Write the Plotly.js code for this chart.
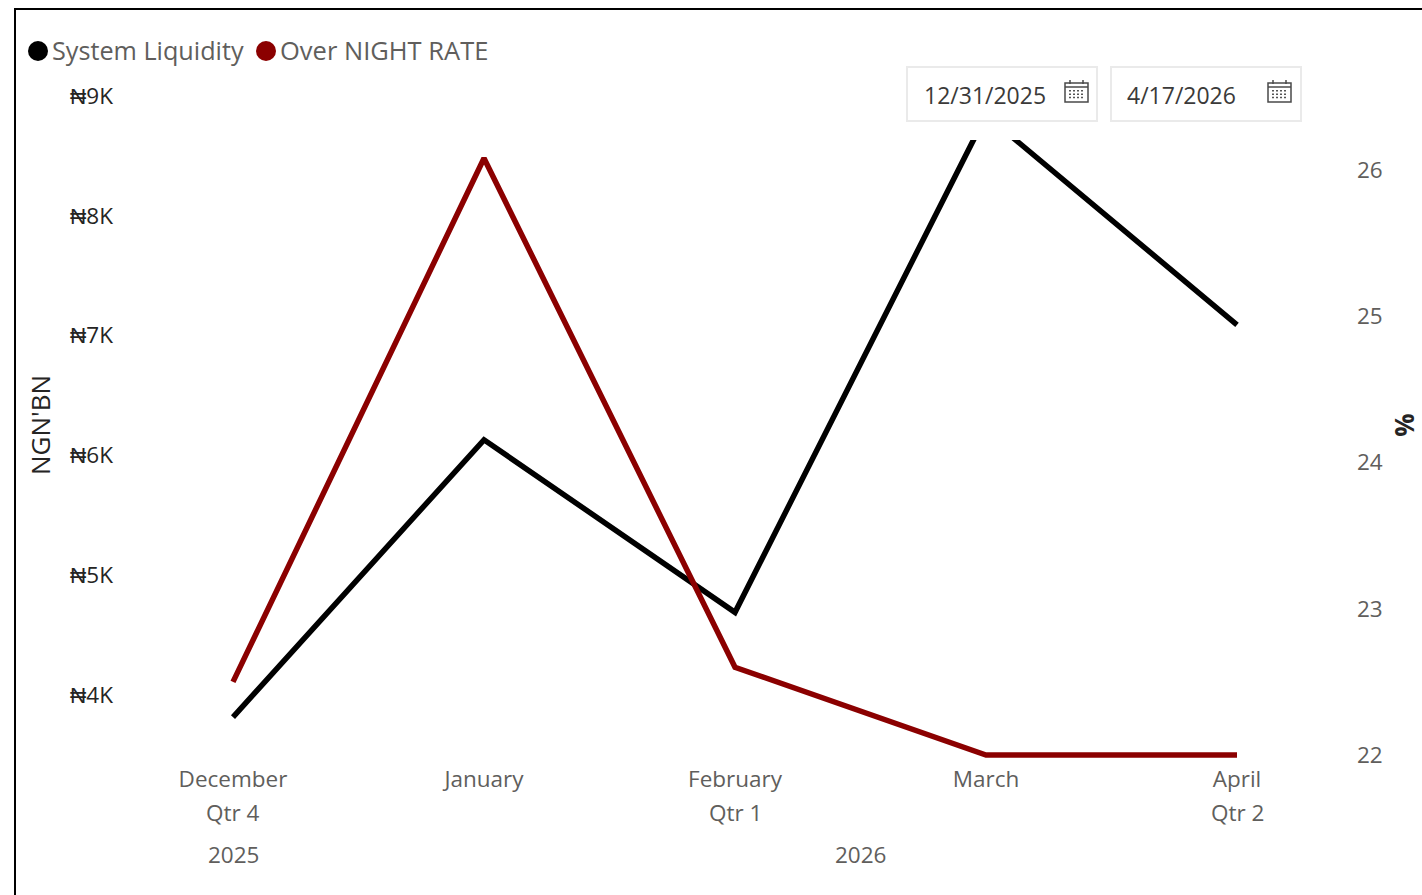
<!DOCTYPE html>
<html><head><meta charset="utf-8">
<script src="https://cdn.plot.ly/plotly-3.0.1.min.js"></script>
<style>html,body{margin:0;padding:0;background:#fff;overflow:hidden}#c{width:1422px;height:895px}</style>
</head><body><div id="c"></div>
<script>
const months = ["December","January","February","March","April"];
const quarters = ["Qtr 4","","Qtr 1","","Qtr 2"];
const liquidity = [3.816,6.13,4.69,8.84,7.09];
const overnight = [22.5,26.08,22.6,22,22];
const leftTicks = [4,5,6,7,8,9];
const leftLabels = ["₦4K","₦5K","₦6K","₦7K","₦8K","₦9K"];
const rightTicks = [22,23,24,25,26];
const seriesNames = ["System Liquidity","Over NIGHT RATE"];
const dates = ["12/31/2025","4/17/2026"];
const years = [["2025",0],["2026",2.5]];

const W=1422,H=895,L=118,R=1350,T=90,B=760;
const FONT='"Open Sans", sans-serif', GREY='#605e5c';
const px=x=>(x-L)/(R-L), py=y=>(B-y)/(B-T);
const rect=(x0,y0,x1,y1,fill,line,w)=>({type:'rect',xref:'paper',yref:'paper',x0:px(x0),x1:px(x1),y0:py(y0),y1:py(y1),fillcolor:fill,line:{color:line||fill,width:line?(w||1):0},layer:'above'});
const seg=(x0,y0,x1,y1,c,w)=>({type:'line',xref:'paper',yref:'paper',x0:px(x0),x1:px(x1),y0:py(y0),y1:py(y1),line:{color:c,width:w},layer:'above'});
const dot=(cx,cy,r,c)=>({type:'circle',xref:'paper',yref:'paper',x0:px(cx-r),x1:px(cx+r),y0:py(cy-r),y1:py(cy+r),fillcolor:c,line:{width:0},layer:'above'});
const label=(x,y,t,size,color,anchor)=>({xref:'paper',yref:'paper',x:px(x),y:py(y),text:t,showarrow:false,font:{family:FONT,size,color},xanchor:anchor||'left',yanchor:'middle'});

function calendar(x,y){
  const c='#4a4a4a',s=[];
  s.push(rect(x,y+2,x+23,y+21,'#fff',c,1.5));
  s.push(seg(x,y+6,x+23,y+6,c,1.5));
  s.push(seg(x+5,y-1,x+5,y+3,c,1.5));
  s.push(seg(x+18,y-1,x+18,y+3,c,1.5));
  for(let i=0;i<4;i++)for(let j=0;j<3;j++)s.push(rect(x+4+i*4,y+9+j*3.4,x+6+i*4,y+10.5+j*3.4,'#555'));
  return s;
}
const shapes=[
  seg(15,895,15,9,'#000',2), seg(14,9,1422,9,'#000',2),
  rect(900,60,1104,140,'#fff'),
  rect(907,67,1097,121,'#fff','#eaeaea',2),
  rect(1111,67,1301,121,'#fff','#eaeaea',2),
  ...calendar(1065,81), ...calendar(1268,81),
  dot(38,51,10,'#000'), dot(266,51,10,'#8B0000')
];
const annotations=[
  label(50,50,seriesNames[0],25.2,GREY),
  label(278,50,seriesNames[1],25.5,GREY),
  label(922,95,dates[0],23,'#3b3a39'),
  label(1125,95,dates[1],23,'#3b3a39')
];
quarters.forEach((q,i)=>{ if(q) annotations.push({xref:'x',yref:'paper',x:i,y:py(812.5),text:q,showarrow:false,font:{family:FONT,size:22.5,color:GREY},xanchor:'center',yanchor:'middle'}); });
years.forEach(([t,i])=>annotations.push({xref:'x',yref:'paper',x:i,y:py(854),text:t,showarrow:false,font:{family:FONT,size:22.5,color:GREY},xanchor:'center',yanchor:'middle'}));

const idx=months.map((_,i)=>i);
Plotly.newPlot('c',[
 {x:idx,y:liquidity,name:seriesNames[0],type:'scatter',mode:'lines',line:{color:'#000',width:5.5},yaxis:'y',cliponaxis:false},
 {x:idx,y:overnight,name:seriesNames[1],type:'scatter',mode:'lines',line:{color:'#8B0000',width:5.5},yaxis:'y2',cliponaxis:false}
],{
 width:W,height:H,showlegend:false,paper_bgcolor:'#fff',plot_bgcolor:'#fff',
 margin:{l:L,r:W-R,t:T,b:H-B,pad:0},
 font:{family:FONT},
 xaxis:{type:'linear',range:[(L-233)/251,(R-233)/251],tickmode:'array',tickvals:idx,ticktext:months,showgrid:false,zeroline:false,showline:false,ticks:'',tickfont:{family:FONT,size:22.5,color:GREY},ticklabelstandoff:3},
 yaxis:{range:[3.4574,9.05],tickmode:'array',tickvals:leftTicks,ticktext:leftLabels,showgrid:false,zeroline:false,showline:false,ticks:'',tickfont:{family:FONT,size:22.5,color:'#252423'},ticklabelstandoff:4,title:{text:"NGN'BN",font:{family:FONT,size:26,color:'#252423'},standoff:12}},
 yaxis2:{overlaying:'y',side:'right',range:[21.966,26.547],tickmode:'array',tickvals:rightTicks,ticktext:rightTicks.map(String),showgrid:false,zeroline:false,showline:false,ticks:'',tickfont:{family:FONT,size:22.5,color:GREY},ticklabelstandoff:6,title:{text:'<b>%</b>',font:{family:FONT,size:26,color:'#252423'},standoff:25}},
 shapes,annotations
},{displayModeBar:false,staticPlot:true});
</script></body></html>
